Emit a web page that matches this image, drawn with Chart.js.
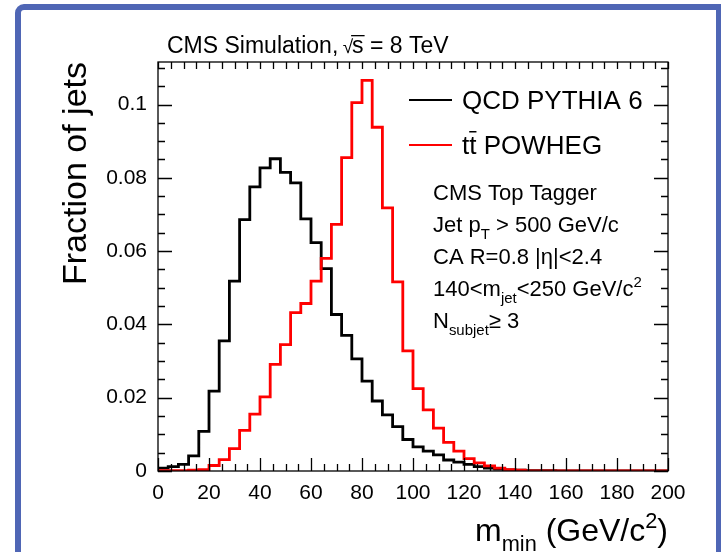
<!DOCTYPE html>
<html lang="en">
<head>
<meta charset="UTF-8">
<title>m_min - CMS Top Tagger</title>
<script src="https://cdn.jsdelivr.net/npm/chart.js"></script>
<style>
  html, body { margin: 0; padding: 0; background: #fff; }
  #wrap { width: 721px; height: 552px; }
</style>
</head>
<body>
<div id="wrap"><canvas id="mmin-chart" width="721" height="552"></canvas></div>
<script>
// bin edges of m_min (GeV/c^2), 4 GeV bins
const massBins = [0, 4, 8, 12, 16, 20, 24, 28, 32, 36, 40, 44, 48, 52, 56, 60, 64, 68, 72, 76,
  80, 84, 88, 92, 96, 100, 104, 108, 112, 116, 120, 124, 128, 132, 136, 140, 144, 148, 152, 156,
  160, 164, 168, 172, 176, 180, 184, 188, 192, 196, 200];

// fraction of jets per bin
const qcdFraction = [0.0008, 0.0012, 0.0018, 0.0041, 0.0108, 0.0218, 0.0355, 0.0518, 0.0686, 0.0775,
  0.0827, 0.0852, 0.0815, 0.0786, 0.0688, 0.0623, 0.0552, 0.0427, 0.0370, 0.0306,
  0.0245, 0.0191, 0.0153, 0.0121, 0.0086, 0.0066, 0.0054, 0.0044, 0.0030, 0.0024,
  0.0018, 0.0012, 0.0008, 0.0005, 0.0003, 0.0002, 0.0001, 0.0001, 0.0001, 0,
  0, 0, 0, 0, 0, 0, 0, 0, 0, 0];

const ttbarFraction = [0.0001, 0.0001, 0.0001, 0.0002, 0.0004, 0.0015, 0.0031, 0.0061, 0.0111, 0.0155,
  0.0202, 0.0291, 0.0345, 0.0432, 0.0457, 0.0518, 0.0580, 0.0673, 0.0855, 0.1005,
  0.1066, 0.0938, 0.0718, 0.0516, 0.0328, 0.0225, 0.0167, 0.0117, 0.0078, 0.0054,
  0.0034, 0.0022, 0.0014, 0.0008, 0.0004, 0.0002, 0, 0, 0, 0,
  0, 0, 0, 0, 0, 0, 0, 0, 0, 0];

const seriesLabels = ['QCD PYTHIA 6', 'tt POWHEG'];
const infoLines = ['CMS Top Tagger', 'Jet p_T > 500 GeV/c', 'CA R=0.8 |\u03b7|<2.4', '140<m_jet<250 GeV/c^2', 'N_subjet\u2265 3'];

const FONT = "'Liberation Sans', Arial, Helvetica, sans-serif";

// histogram -> step points (left edge of each bin + closing right edge)
function histPoints(vals) {
  const pts = vals.map((v, i) => ({ x: massBins[i], y: v }));
  pts.push({ x: massBins[vals.length], y: vals[vals.length - 1] });
  return pts;
}

// draw text with _sub and ^sup pieces
function richText(ctx, str, x, y, size, align) {
  const parts = [];
  const re = /([_^])(\w+)|([^_^]+)/g;
  let m;
  while ((m = re.exec(str)) !== null) {
    if (m[3]) parts.push({ t: m[3], s: size, dy: 0 });
    else if (m[1] === '_') parts.push({ t: m[2], s: size * 0.68, dy: size * 0.3 });
    else parts.push({ t: m[2], s: size * 0.68, dy: -size * 0.4 });
  }
  let w = 0;
  parts.forEach(p => { ctx.font = p.s + 'px ' + FONT; p.w = ctx.measureText(p.t).width; w += p.w; });
  let cx = align === 'right' ? x - w : x;
  ctx.textAlign = 'left';
  ctx.textBaseline = 'alphabetic';
  parts.forEach(p => {
    ctx.font = p.s + 'px ' + FONT;
    ctx.fillText(p.t, cx, y + p.dy);
    cx += p.w;
  });
}

const frameDecor = {
  id: 'frameDecor',
  afterDatasetsDraw(chart) {
    const { ctx, chartArea: a, scales } = chart;
    const xs = scales.x, ys = scales.y;
    ctx.save();
    ctx.strokeStyle = '#000';
    ctx.lineWidth = 1.3;
    ctx.strokeRect(a.left, a.top, a.right - a.left, a.bottom - a.top);
    ctx.beginPath();
    // x ticks, bottom and top
    for (let k = 0; k * 5 <= 200; k++) {
      const px = Math.round(xs.getPixelForValue(k * 5)) + 0.5;
      const len = k % 4 === 0 ? 13 : 7;
      ctx.moveTo(px, a.bottom); ctx.lineTo(px, a.bottom - len);
      ctx.moveTo(px, a.top); ctx.lineTo(px, a.top + 7);
    }
    // y ticks, left and right
    for (let k = 0; k * 0.005 <= ys.max; k++) {
      const py = Math.round(ys.getPixelForValue(k * 0.005)) + 0.5;
      const len = k % 4 === 0 ? 14 : 7;
      ctx.moveTo(a.left, py); ctx.lineTo(a.left + len, py);
      ctx.moveTo(a.right, py); ctx.lineTo(a.right - len, py);
    }
    ctx.stroke();
    ctx.restore();
  },
  afterDraw(chart) {
    const { ctx, chartArea: a } = chart;
    ctx.save();
    ctx.fillStyle = '#000';

    // title
    ctx.font = '23px ' + FONT;
    ctx.textBaseline = 'alphabetic';
    ctx.textAlign = 'left';
    let tx = 167;
    const t1 = 'CMS Simulation, ';
    ctx.fillText(t1, tx, 53);
    tx += ctx.measureText(t1).width;
    ctx.font = '19px ' + FONT;
    ctx.fillText('\u221a', tx - 2, 53);
    tx += ctx.measureText('\u221a').width - 3;
    ctx.font = '23px ' + FONT;
    const sw = ctx.measureText('s').width;
    ctx.fillText('s', tx, 53);
    ctx.fillRect(tx - 1, 35, sw + 2, 1.3);
    tx += sw;
    ctx.fillText(' = 8 TeV', tx, 53);

    // legend
    const colors = ['#000000', '#ff0000'];
    const legY = [100, 145];
    ctx.lineWidth = 2;
    for (let i = 0; i < 2; i++) {
      ctx.strokeStyle = colors[i];
      ctx.beginPath();
      ctx.moveTo(409, legY[i]); ctx.lineTo(452, legY[i]);
      ctx.stroke();
    }
    ctx.font = '26px ' + FONT;
    ctx.fillText(seriesLabels[0], 462, 109);
    ctx.fillText(seriesLabels[1], 462, 154);
    // bar over the second t
    const tw = ctx.measureText('t').width;
    ctx.fillRect(462 + tw, 131, tw, 1.5);

    // info block
    const infoY = [200, 232, 264, 296, 328];
    infoLines.forEach((s, i) => richText(ctx, s, 433, infoY[i], 22, 'left'));

    // axis titles
    richText(ctx, 'm_min (GeV/c^2)', a.right, 541, 32, 'right');
    ctx.save();
    ctx.translate(86, a.top);
    ctx.rotate(-Math.PI / 2);
    ctx.font = '34px ' + FONT;
    ctx.textAlign = 'right';
    ctx.fillText('Fraction of jets', 0, 0);
    ctx.restore();

    // blue slide frame
    ctx.strokeStyle = '#4f66b5';
    ctx.lineWidth = 6;
    ctx.beginPath();
    ctx.moveTo(18, 560);
    ctx.lineTo(18, 14);
    ctx.arcTo(18, 7, 25, 7, 6);
    ctx.lineTo(719, 7);
    ctx.lineTo(719, 560);
    ctx.stroke();
    ctx.restore();
  }
};

const ctx = document.getElementById('mmin-chart').getContext('2d');
new Chart(ctx, {
  type: 'line',
  data: {
    datasets: [
      {
        label: seriesLabels[0],
        data: histPoints(qcdFraction),
        borderColor: '#000000',
        borderWidth: 2.8,
        pointRadius: 0,
        stepped: 'before',
        fill: false,
        order: 1
      },
      {
        label: seriesLabels[1],
        data: histPoints(ttbarFraction),
        borderColor: '#ff0000',
        borderWidth: 2.8,
        pointRadius: 0,
        stepped: 'before',
        fill: false,
        order: 0
      }
    ]
  },
  options: {
    responsive: false,
    animation: false,
    layout: { padding: { top: 62, right: 53, left: 0, bottom: 0 } },
    plugins: { legend: { display: false }, tooltip: { enabled: false }, title: { display: false } },
    scales: {
      x: {
        type: 'linear',
        min: 0,
        max: 200,
        grid: { display: false, drawTicks: false },
        border: { display: false },
        ticks: {
          stepSize: 20,
          padding: 10,
          color: '#000',
          maxRotation: 0,
          font: { family: FONT, size: 21 }
        },
        afterFit(scale) { scale.height = 81; }
      },
      y: {
        min: 0,
        max: 0.1116,
        grid: { display: false, drawTicks: false },
        border: { display: false },
        ticks: {
          stepSize: 0.02,
          includeBounds: false,
          padding: 11,
          color: '#000',
          font: { family: FONT, size: 21 },
          callback: v => String(Math.round(v * 100) / 100)
        },
        afterFit(scale) { scale.width = 158; }
      }
    }
  },
  plugins: [frameDecor]
});
</script>
</body>
</html>
